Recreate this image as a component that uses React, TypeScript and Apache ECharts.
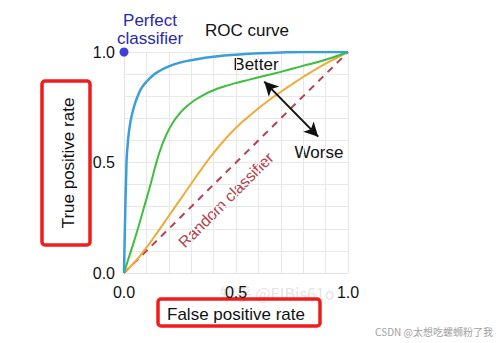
import React, { useEffect, useRef } from "react";
import * as echarts from "echarts";

const blueCurve: [number, number][] = [
  [0, 0], [0.002, 0.1], [0.004, 0.2], [0.006, 0.3], [0.008, 0.38], [0.01, 0.45],
  [0.012, 0.52], [0.016, 0.575], [0.02, 0.62], [0.025, 0.66], [0.03, 0.69],
  [0.04, 0.735], [0.05, 0.77], [0.065, 0.81], [0.08, 0.84], [0.1, 0.865],
  [0.13, 0.895], [0.16, 0.915], [0.2, 0.935], [0.25, 0.952], [0.3, 0.963],
  [0.35, 0.972], [0.4, 0.979], [0.5, 0.988], [0.6, 0.994], [0.7, 0.998],
  [0.8, 1.0], [0.9, 1.0], [1, 1],
];
const greenCurve: [number, number][] = [
  [0, 0], [0.02, 0.065], [0.042, 0.134], [0.065, 0.21], [0.086, 0.285],
  [0.11, 0.37], [0.13, 0.445], [0.146, 0.505], [0.165, 0.565], [0.19, 0.628],
  [0.22, 0.683], [0.25, 0.723], [0.28, 0.754], [0.31, 0.778], [0.35, 0.803],
  [0.4, 0.827], [0.45, 0.845], [0.5, 0.86], [0.56, 0.875], [0.615, 0.889],
  [0.7, 0.91], [0.79, 0.935], [0.9, 0.965], [1, 1],
];
const orangeCurve: [number, number][] = [
  [0, 0], [0.05, 0.052], [0.1, 0.115], [0.15, 0.185], [0.2, 0.258],
  [0.25, 0.331], [0.3, 0.404], [0.35, 0.476], [0.4, 0.543], [0.45, 0.603],
  [0.5, 0.657], [0.55, 0.703], [0.6, 0.745], [0.65, 0.784], [0.7, 0.82],
  [0.75, 0.854], [0.8, 0.887], [0.85, 0.918], [0.9, 0.947], [0.95, 0.974], [1, 1],
];
const randomLine: [number, number][] = [[0, 0], [1, 1]];
const perfectPoint: [number, number][] = [[0, 1]];
const arrowEnds: [number, number][] = [[0.626, 0.866], [0.867, 0.617]];
const tickLabels: Record<string, string> = { "0": "0.0", "0.5": "0.5", "1": "1.0" };

const FONT = "Liberation Sans, Arial, sans-serif";

export default function App() {
  const ref = useRef<HTMLDivElement>(null);
  useEffect(() => {
    if (!ref.current) return;
    const chart = echarts.init(ref.current, undefined, { renderer: "svg" });
    const axisCommon = {
      type: "value" as const,
      min: 0,
      max: 1,
      interval: 0.1,
      axisLine: { show: true, lineStyle: { color: "#e2e2e2", width: 1 } },
      axisTick: { show: false },
      splitLine: { show: true, lineStyle: { color: "#e8e8e8", width: 1 } },
      axisLabel: {
        color: "#111",
        fontSize: 16,
        fontFamily: FONT,
        formatter: (v: number) => {
          const k = String(Math.round(v * 10) / 10);
          return tickLabels[k] ?? "";
        },
      },
    };
    const t = (x: number, y: number, text: string, extra: any = {}) => ({
      type: "text",
      x,
      y,
      ...extra,
      style: {
        text,
        fill: "#111",
        fontSize: 17,
        fontFamily: FONT,
        align: "center",
        verticalAlign: "middle",
        ...(extra.style || {}),
      },
    });
    chart.setOption({
      animation: false,
      backgroundColor: "#ffffff",
      grid: { left: 124, right: 148, top: 52, bottom: 70 },
      xAxis: { ...axisCommon, axisLabel: { ...axisCommon.axisLabel, margin: 11 } },
      yAxis: { ...axisCommon, axisLabel: { ...axisCommon.axisLabel, margin: 9 } },
      series: [
        {
          type: "line",
          data: randomLine,
          showSymbol: false,
          lineStyle: { color: "#b8404c", width: 2, type: [7, 6] },
          z: 2,
          markLine: {
            silent: true,
            symbol: ["arrow", "arrow"],
            symbolSize: [11, 14],
            label: { show: false },
            lineStyle: { color: "#111", width: 2, type: "solid" },
            data: [[{ coord: arrowEnds[0] }, { coord: arrowEnds[1] }]],
          },
        },
        {
          type: "line",
          data: orangeCurve,
          showSymbol: false,
          smooth: 0.5,
          lineStyle: { color: "#f0aa38", width: 2 },
          z: 3,
        },
        {
          type: "line",
          data: greenCurve,
          showSymbol: false,
          smooth: 0.5,
          lineStyle: { color: "#3cbf3c", width: 2 },
          z: 4,
        },
        {
          type: "line",
          data: blueCurve,
          showSymbol: false,
          smooth: 0.5,
          lineStyle: { color: "#3a9ed8", width: 2.5 },
          z: 5,
        },
        {
          type: "scatter",
          data: perfectPoint,
          symbolSize: 9,
          itemStyle: { color: "#1010d0" },
          z: 6,
        },
      ],
      graphic: [
        t(150, 20, "Perfect", { style: { fill: "#2a2aa8" } }),
        t(150, 38, "classifier", { style: { fill: "#2a2aa8" } }),
        t(247, 30, "ROC curve"),
        t(256, 64, "Better"),
        t(319, 152, "Worse"),
        t(226, 200, "Random classifier", { rotation: Math.PI / 4, style: { fill: "#b8404c", fontSize: 16 } }),
        t(277, 293, "知乎 @EIBis61o", {
          z: 0,
          style: { fill: "rgba(160,160,160,0.3)", fontSize: 16, fontFamily: "Noto Sans CJK SC, sans-serif" },
        }),
        {
          type: "rect",
          shape: { x: 42, y: 81, width: 48, height: 164, r: 3 },
          style: { fill: "none", stroke: "#f01c1c", lineWidth: 3.5 },
        },
        t(68, 163, "True positive rate", { rotation: Math.PI / 2 }),
        {
          type: "rect",
          shape: { x: 158, y: 299, width: 162, height: 27, r: 3 },
          style: { fill: "none", stroke: "#f01c1c", lineWidth: 3.5 },
        },
        t(236, 314, "False positive rate"),
        t(493, 331, "CSDN @太想吃螺蛳粉了我", {
          style: { fill: "#a0a0a0", fontSize: 10, fontFamily: "Noto Sans CJK SC, sans-serif", align: "right" },
        }),
      ],
    });
    return () => chart.dispose();
  }, []);
  return (
    <div
      ref={ref}
      style={{ position: "fixed", left: 0, top: 0, width: 496, height: 343 }}
    />
  );
}
